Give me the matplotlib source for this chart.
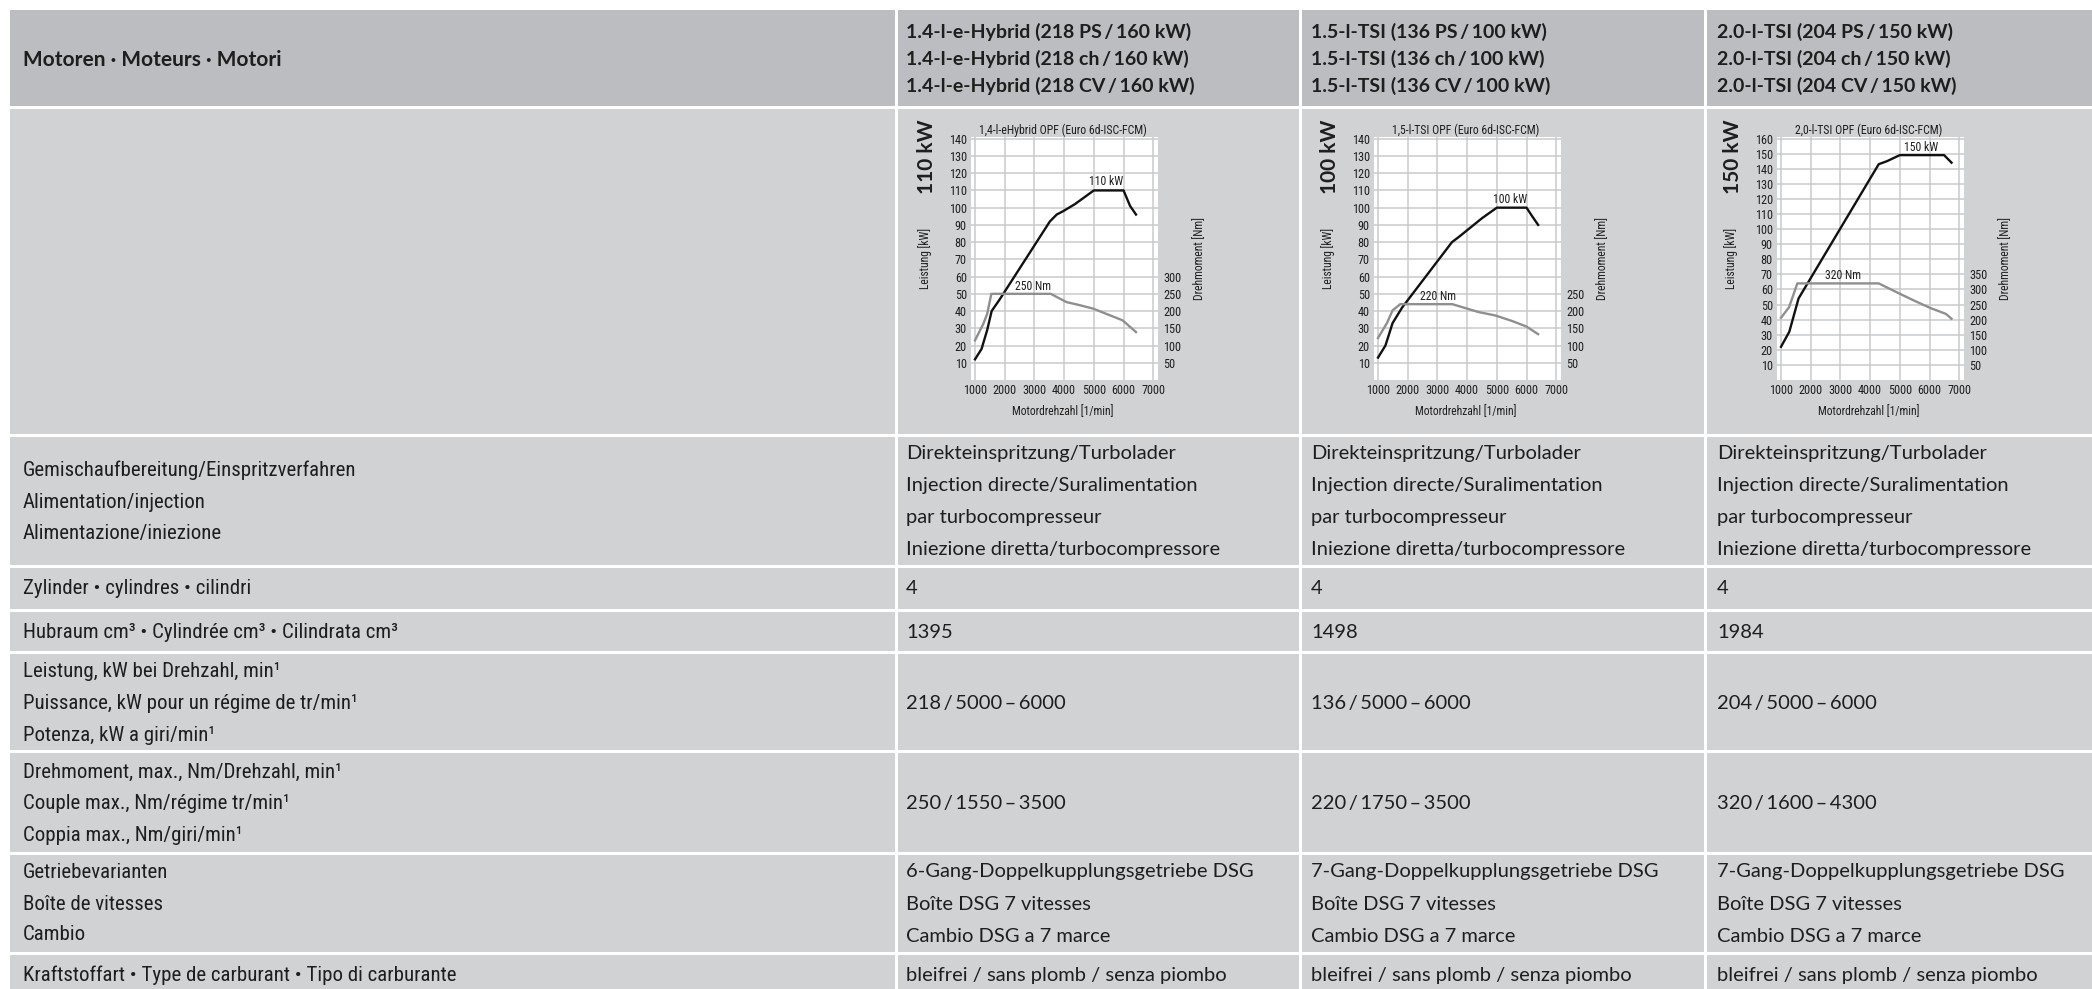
import matplotlib
matplotlib.use('Agg')
import matplotlib.pyplot as plt
from matplotlib import font_manager
from matplotlib.patches import Rectangle

W, H = 2092, 989

installed = {f.name for f in font_manager.fontManager.ttflist}


def pick(*names):
    for n in names:
        if n in installed:
            return n
    return 'DejaVu Sans'


NARROW = pick('Roboto Condensed', 'Liberation Sans Narrow', 'Open Sans Condensed', 'Roboto')
TEXT = pick('Lato', 'Open Sans')
TS = '\u2009'  # schmales Leerzeichen

# --- Motor-Kennlinien (Leistung kW / Drehmoment Nm über Drehzahl) ---
p1_rpm = [1000, 1220, 1410, 1560, 1840, 3520, 3750, 3970, 4360, 5000, 6000, 6220, 6420]
p1_kw = [12, 18, 29, 40, 47, 92, 96, 98, 102, 110, 110, 101, 96]
t1_rpm = [1000, 1280, 1410, 1550, 3550, 4080, 4530, 4980, 5970, 6420]
t1_nm = [115, 163, 192, 250, 250, 226, 217, 207, 173, 139]

p2_rpm = [1000, 1250, 1490, 1810, 3490, 3720, 4510, 5000, 6000, 6190, 6390]
p2_kw = [13, 20, 33, 42, 80, 83, 94, 100, 100, 95, 90]
t2_rpm = [1000, 1300, 1490, 1750, 3500, 4390, 4960, 5520, 6000, 6390]
t2_nm = [122, 165, 202, 220, 220, 197, 187, 171, 155, 133]

p3_rpm = [1000, 1280, 1590, 4290, 4570, 5000, 6490, 6740]
p3_kw = [22, 32, 54, 143, 145, 149, 149, 144]
t3_rpm = [1000, 1270, 1550, 4290, 4910, 5480, 6040, 6550, 6740]
t3_nm = [206, 241, 320, 320, 290, 263, 238, 219, 203]

chart_titles = ['1,4-l-eHybrid OPF (Euro 6d-ISC-FCM)',
                '1,5-l-TSI OPF (Euro 6d-ISC-FCM)',
                '2,0-l-TSI OPF (Euro 6d-ISC-FCM)']
big_kw = ['110 kW', '100 kW', '150 kW']
kw_max_tick = [140, 140, 160]
nm_max_tick = [300, 250, 350]
peak_kw_label = ['110 kW', '100 kW', '150 kW']
peak_kw_pos = [(5430, 115), (5460, 105), (5720, 154)]
peak_nm_label = ['250 Nm', '220 Nm', '320 Nm']
peak_nm_pos = [(2960, 272), (3020, 241), (3090, 345)]

# --- Tabelle ---
header_left = 'Motoren · Moteurs · Motori'
engines = [
    ['1.4-l-e-Hybrid (218 PS / 160 kW)', '1.4-l-e-Hybrid (218 ch / 160 kW)', '1.4-l-e-Hybrid (218 CV / 160 kW)'],
    ['1.5-l-TSI (136 PS / 100 kW)', '1.5-l-TSI (136 ch / 100 kW)', '1.5-l-TSI (136 CV / 100 kW)'],
    ['2.0-l-TSI (204 PS / 150 kW)', '2.0-l-TSI (204 ch / 150 kW)', '2.0-l-TSI (204 CV / 150 kW)'],
]
row_labels = [
    ['Gemischaufbereitung/Einspritzverfahren', 'Alimentation/injection', 'Alimentazione/iniezione'],
    ['Zylinder • cylindres • cilindri'],
    ['Hubraum cm³ • Cylindrée cm³ • Cilindrata cm³'],
    ['Leistung, kW bei Drehzahl, min¹', 'Puissance, kW pour un régime de tr/min¹', 'Potenza, kW a giri/min¹'],
    ['Drehmoment, max., Nm/Drehzahl, min¹', 'Couple max., Nm/régime tr/min¹', 'Coppia max., Nm/giri/min¹'],
    ['Getriebevarianten', 'Boîte de vitesses', 'Cambio'],
    ['Kraftstoffart • Type de carburant • Tipo di carburante'],
]
gemisch = ['Direkteinspritzung/Turbolader', 'Injection directe/Suralimentation',
           'par turbocompresseur', 'Iniezione diretta/turbocompressore']
zylinder = ['4', '4', '4']
hubraum = ['1395', '1498', '1984']
leistung = ['218 / 5000 – 6000', '136 / 5000 – 6000', '204 / 5000 – 6000']
drehmoment = ['250 / 1550 – 3500', '220 / 1750 – 3500', '320 / 1600 – 4300']
getriebe = [
    ['6-Gang-Doppelkupplungsgetriebe DSG', 'Boîte DSG 7 vitesses', 'Cambio DSG a 7 marce'],
    ['7-Gang-Doppelkupplungsgetriebe DSG', 'Boîte DSG 7 vitesses', 'Cambio DSG a 7 marce'],
    ['7-Gang-Doppelkupplungsgetriebe DSG', 'Boîte DSG 7 vitesses', 'Cambio DSG a 7 marce'],
]
kraftstoff = ['bleifrei / sans plomb / senza piombo'] * 3

HEAD_BG = '#bcbdc0'
BODY_BG = '#d1d2d4'
INK = '#1e1e1e'


def tight(s):
    # Schrägstrich und Bis-Strich mit schmalen Abständen
    return s.replace(' / ', TS + '/' + TS).replace(' – ', TS + '–' + TS)


fig = plt.figure(figsize=(W / 100, H / 100), dpi=100)
fig.patch.set_facecolor('white')
bg = fig.add_axes([0, 0, 1, 1])
bg.set_xlim(0, W)
bg.set_ylim(H, 0)
bg.axis('off')

col_x = [(10, 895), (898, 1299), (1302, 1704), (1707, W)]
row_y = [(10, 106), (109, 434), (437, 565), (568, 609), (612, 651),
         (654, 750), (753, 852), (855, 952), (955, H)]

for i, (y0, y1) in enumerate(row_y):
    for x0, x1 in col_x:
        bg.add_patch(Rectangle((x0, y0), x1 - x0, y1 - y0,
                               facecolor=HEAD_BG if i == 0 else BODY_BG, edgecolor='none'))

text_x = [23, 906, 1311, 1717]
fam = [TEXT, 'DejaVu Sans']
head_kw = dict(family=fam, fontsize=14, fontweight='bold', color=INK, va='center')
lab_kw = dict(family=NARROW, fontsize=15, color=INK, va='center')
val_kw = dict(family=fam, fontsize=14.5, color=INK, va='center')

bg.text(text_x[0], 60, header_left, **dict(head_kw, fontsize=15))
for c, lines in enumerate(engines):
    for k, s in enumerate(lines):
        bg.text(text_x[c + 1], 32 + 27 * k, tight(s), **head_kw)

label_y = [[470, 502, 534], [589], [632], [671, 703, 735], [772, 803, 835], [872, 904, 935], [975]]
for lines, ys in zip(row_labels, label_y):
    for s, y in zip(lines, ys):
        bg.text(text_x[0], y, s, **lab_kw)

for c in range(3):
    x = text_x[c + 1]
    for k, s in enumerate(gemisch):
        bg.text(x, 454 + 32 * k, s, **val_kw)
    bg.text(x, 589, zylinder[c], **val_kw)
    bg.text(x, 632, hubraum[c], **val_kw)
    bg.text(x, 703, tight(leistung[c]), **val_kw)
    bg.text(x, 803, tight(drehmoment[c]), **val_kw)
    for k, s in enumerate(getriebe[c]):
        bg.text(x, 872 + 32 * k, s, **val_kw)
    bg.text(x, 975, kraftstoff[c], **val_kw)

# --- Diagramme ---
curves = [(p1_rpm, p1_kw, t1_rpm, t1_nm), (p2_rpm, p2_kw, t2_rpm, t2_nm), (p3_rpm, p3_kw, t3_rpm, t3_nm)]
chart_left = [971, 1374, 1777]
GRID = '#c9cacc'
small = dict(family=NARROW, color=INK)

for i, (prpm, pkw, trpm, tnm) in enumerate(curves):
    off = chart_left[i] - 971
    ymax = kw_max_tick[i] + 1
    ax = fig.add_axes([chart_left[i] / W, 1 - 380 / H, 187 / W, 243 / H])
    ax.set_facecolor('white')
    ax.set_xlim(865, 7160)
    ax.set_ylim(0, ymax)
    ax.set_xticks(range(1000, 7001, 1000))
    ax.set_yticks(range(10, kw_max_tick[i] + 1, 10))
    ax.grid(True, color=GRID, lw=1.1)
    ax.set_axisbelow(True)
    ax.tick_params(length=0, labelsize=8.8, pad=3)
    for lbl in ax.get_xticklabels() + ax.get_yticklabels():
        lbl.set_family(NARROW)
        lbl.set_color(INK)
    for sp in ax.spines.values():
        sp.set_visible(False)
    ax.plot(prpm, pkw, color='#111111', lw=1.7, solid_joinstyle='round', zorder=3)
    ax.text(*peak_kw_pos[i], peak_kw_label[i], ha='center', va='center', fontsize=8.5, **small)

    tw = ax.twinx()
    tw.set_ylim(0, ymax * 5)
    tw.set_yticks(range(50, nm_max_tick[i] + 1, 50))
    tw.tick_params(length=0, labelsize=8.8, pad=4)
    for lbl in tw.get_yticklabels():
        lbl.set_family(NARROW)
        lbl.set_color(INK)
    for sp in tw.spines.values():
        sp.set_visible(False)
    tw.plot(trpm, tnm, color='#8e8f91', lw=1.7, solid_joinstyle='round', zorder=3)
    tw.text(*peak_nm_pos[i], peak_nm_label[i], ha='center', va='center', fontsize=8.5, **small)

    bg.text(1063 + off, 130, chart_titles[i], ha='center', va='center', fontsize=8.5, **small)
    bg.text(1063 + off, 412, 'Motordrehzahl [1/min]', ha='center', va='center', fontsize=8.3, **small)
    bg.text(925 + off, 258, 'Leistung [kW]', ha='center', va='center', rotation=90, fontsize=8.3, **small)
    bg.text(1200 + off, 258, 'Drehmoment [Nm]', ha='center', va='center', rotation=90, fontsize=8.3, **small)
    bg.text(927 + off, 157, big_kw[i], ha='center', va='center', rotation=90,
            fontsize=15, fontweight='bold', family=TEXT, color=INK)

fig.savefig('out.png', dpi=100, facecolor='white')
